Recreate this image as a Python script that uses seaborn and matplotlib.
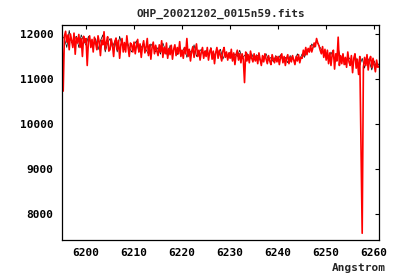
import numpy as np
import pandas as pd
import matplotlib
matplotlib.use("Agg")
import matplotlib.pyplot as plt
import seaborn as sns

title = "OHP_20021202_0015n59.fits"
xlabel = "Angstrom"
x_ticks = [6200, 6210, 6220, 6230, 6240, 6250, 6260]
y_ticks = [8000, 9000, 10000, 11000, 12000]

wl_start = 6195.0
red_step = 0.25
black_step = 0.5

red_flux = [
    11880, 10730, 11950, 12060, 11820, 11980, 11650, 12000, 11860, 11700, 12020, 11550, 11920, 11800, 11990, 11700, 11900, 11500, 11950, 11820,
    11900, 11300, 11850, 11960, 11700, 11880, 11600, 11930, 11800, 11650, 11960, 11820, 11520, 11860, 11760, 12050, 11650, 11820, 11940, 11620,
    11650, 11890, 11760, 11500, 11830, 11910, 11650, 11860, 11460, 11760, 11900, 11600, 11810, 11600, 11960, 11710, 11500, 11800, 11760, 11600,
    11820, 11560, 11740, 11880, 11600, 11780, 11480, 11720, 11850, 11580, 11700, 11900, 11520, 11760, 11440, 11700, 11820, 11560, 11750, 11620,
    11520, 11760, 11600, 11850, 11480, 11700, 11560, 11800, 11460, 11680, 11540, 11750, 11440, 11660, 11760, 11520, 11700, 11560, 11830, 11500,
    11640, 11460, 11700, 11560, 11900, 11500, 11660, 11400, 11620, 11720, 11480, 11650, 11780, 11500, 11640, 11420, 11600, 11700, 11460, 11620,
    11500, 11700, 11420, 11600, 11680, 11440, 11620, 11340, 11580, 11700, 11460, 11640, 11520, 11400, 11620, 11700, 11480, 11600, 11420, 11580,
    11460, 11660, 11400, 11580, 11320, 11540, 11640, 11420, 11560, 11360, 11560, 11440, 10920, 11600, 11400, 11540, 11360, 11620, 11460, 11380,
    11560, 11400, 11520, 11340, 11580, 11440, 11300, 11520, 11380, 11560, 11440, 11340, 11520, 11400, 11320, 11540, 11440, 11360, 11500, 11380,
    11500, 11320, 11480, 11560, 11360, 11500, 11300, 11460, 11540, 11340, 11480, 11380, 11520, 11420, 11320, 11500, 11400, 11540, 11360, 11480,
    11460, 11640, 11520, 11700, 11540, 11680, 11600, 11740, 11600, 11700, 11800, 11720, 11900, 11800, 11740, 11640, 11560, 11720, 11480, 11660,
    11420, 11640, 11340, 11580, 11300, 11540, 11640, 11220, 11560, 11400, 11930, 11300, 11520, 11340, 11560, 11320, 11480, 11260, 11600, 11380,
    11300, 11520, 11140, 11460, 11560, 11240, 11440, 11100, 11500, 9580, 7570, 11260, 11480, 11300, 11540, 11200, 11420, 11500, 11260, 11460,
    11320, 11160, 11420, 11260, 11280,
]

black_flux = [
    11950, 11900, 11700, 12080, 11800, 11900, 11950, 11700, 11980, 11850,
    11750, 11950, 11800, 11700, 11900, 11650, 11850, 11980, 11600, 11800,
    11900, 11700, 11850, 11600, 11950, 11750, 11650, 11850, 11700, 11600,
    11750, 11850, 11600, 11700, 11800, 11650, 11550, 11780, 11700, 11600,
    11700, 11550, 11800, 11650, 11500, 11750, 11600, 11700, 11540, 11680,
    11600, 11700, 11480, 11650, 11560, 11760, 11500, 11600, 11660, 11520,
    11640, 11520, 11700, 11460, 11600, 11560, 11660, 11440, 11580, 11500,
    11600, 11420, 11560, 11500, 11640, 11460, 11520, 11580, 11400, 11560,
    11420, 11540, 11480, 11340, 11500, 11560, 11420, 11480, 11380, 11520,
    11440, 11540, 11400, 11480, 11360, 11520, 11460, 11400, 11560, 11440,
    11560, 11480, 11660, 11600, 11780, 11700, 11860, 11740, 11660, 11600,
    11560, 11420, 11600, 11480, 11380, 11700, 11440, 11540, 11320, 11500,
    11440, 11300, 11520, 11380, 11300, 11460, 11240, 11500, 11380, 11200,
    11400, 11260, 11340,
]

red_df = pd.DataFrame({"wl": wl_start + red_step * np.arange(len(red_flux)), "flux": red_flux})
black_df = pd.DataFrame({"wl": wl_start + black_step * np.arange(len(black_flux)), "flux": black_flux})

sns.set_style("white")
plt.rcParams["font.family"] = ["DejaVu Sans Mono", "DejaVu Sans"]
plt.rcParams["font.weight"] = "bold"

fig = plt.figure(figsize=(4.0, 2.8), dpi=100)
ax = fig.add_axes([0.155, 0.1429, 0.7925, 0.7678])

sns.lineplot(data=black_df, x="wl", y="flux", ax=ax, color="black", lw=0.5,
             estimator=None, sort=False)
sns.lineplot(data=red_df, x="wl", y="flux", ax=ax, color="#ff0000", lw=1.2,
             estimator=None, sort=False)

ax.set_xlim(6195, 6261)
ax.set_ylim(7420, 12200)
ax.set_xticks(x_ticks)
ax.set_yticks(y_ticks)
ax.set_xticklabels([str(t) for t in x_ticks], fontsize=8, fontweight="bold")
ax.set_yticklabels([str(t) for t in y_ticks], fontsize=8, fontweight="bold")
ax.tick_params(direction="in", length=3, width=0.8, top=True, right=True,
               colors="black")
ax.tick_params(axis="y", pad=6)
ax.tick_params(axis="x", pad=6)
for s in ax.spines.values():
    s.set_visible(True)
    s.set_color("black")
    s.set_linewidth(0.9)
ax.set_xlabel("")
ax.set_ylabel("")

fig.text(0.551, 0.95, title, ha="center", va="center", fontsize=8, fontweight="bold")
fig.text(0.965, 1 - 268 / 280, xlabel, ha="right", va="center", fontsize=8, fontweight="bold")

fig.savefig("out.png", dpi=100, facecolor="white")
